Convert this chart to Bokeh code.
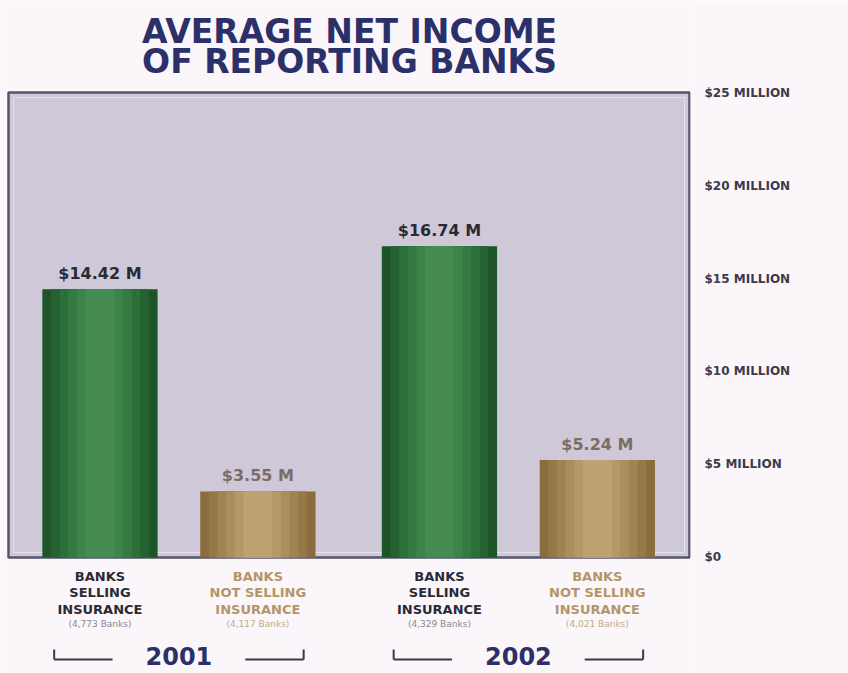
from bokeh.plotting import figure
from bokeh.models import Range1d, FixedTicker, ColumnDataSource
from bokeh.core.properties import value
from bokeh.embed import file_html
from bokeh.resources import INLINE

# ---- data ----
years = ["2001", "2002"]
category_lines = [
    ["BANKS", "SELLING", "INSURANCE"],
    ["BANKS", "NOT SELLING", "INSURANCE"],
]
bank_counts = ["(4,773 Banks)", "(4,117 Banks)", "(4,329 Banks)", "(4,021 Banks)"]
income_millions = [14.42, 3.55, 16.74, 5.24]
y_ticks = [0, 5, 10, 15, 20, 25]
y_tick_labels = ["$0", "$5 MILLION", "$10 MILLION", "$15 MILLION", "$20 MILLION", "$25 MILLION"]
title_lines = ["AVERAGE NET INCOME", "OF REPORTING BANKS"]

# ---- styling ----
FONT = value("DejaVu Sans")
NAVY = "#2c3068"
PAGE = "#fbf6fa"
PANEL = "#cfc8d8"
GREENS = ["#1d5529", "#246231", "#2c6f39", "#347a41", "#3d8449", "#468c52"]
TANS = ["#8a6c3f", "#957748", "#a08352", "#aa8e5e", "#b39968", "#bca371"]
SELL_TEXT = "#2a2a34"
NOSELL_TEXT = "#b39668"

W, H = 848, 673
RIGHT_PANEL = 158
FRAME_W = W - RIGHT_PANEL

n_cat = len(category_lines)
group_gap = 0.15
bar_w = 0.73

# bar centres: categories within a year side by side, years separated by a gap
xs, cat_idx, year_idx = [], [], []
for gi, _ in enumerate(years):
    for ci in range(n_cat):
        xs.append(gi * (n_cat + group_gap) + ci)
        cat_idx.append(ci)
        year_idx.append(gi)

x0 = xs[0] - 0.63
x1 = xs[-1] + 0.59
y0, y1 = -6.24, 29.95
ppu_x = FRAME_W / (x1 - x0)
ppu_y = H / (y1 - y0)

p = figure(
    width=W, height=H, output_backend="svg", toolbar_location=None,
    x_range=Range1d(x0, x1), y_range=Range1d(y0, y1),
    x_axis_location=None, y_axis_location="right",
    min_border_left=0, min_border_top=0, min_border_bottom=0,
    min_border_right=RIGHT_PANEL,
)
p.background_fill_color = PAGE
p.border_fill_color = PAGE
p.outline_line_color = None
p.grid.visible = False

# plot panel
pad_x = 8 / ppu_x
p.quad(left=[x0 + pad_x], right=[x1 - 1 / ppu_x], bottom=[0], top=[y_ticks[-1]],
       fill_color=PANEL, line_color="#56546c", line_width=2.5)
inset_x, inset_y = 5 / ppu_x, 5 / ppu_y
p.quad(left=[x0 + pad_x + inset_x], right=[x1 - 1 / ppu_x - inset_x],
       bottom=[inset_y], top=[y_ticks[-1] - inset_y],
       fill_color=None, line_color="#e6e2ec", line_width=1)

# bars with cylindrical shading (concentric vbars, lighter toward the middle)
for ci, palette in enumerate([GREENS, TANS]):
    bx = [x for x, c in zip(xs, cat_idx) if c == ci]
    bv = [v for v, c in zip(income_millions, cat_idx) if c == ci]
    src = ColumnDataSource(dict(x=bx, top=bv))
    for k, col in enumerate(palette):
        p.vbar(x="x", top="top", bottom=0, width=bar_w * (1 - 0.15 * k),
               source=src, fill_color=col, line_color=None)

# value labels above bars
val_src = ColumnDataSource(dict(
    x=xs, y=income_millions,
    text=[f"${v:.2f} M" for v in income_millions],
    color=[SELL_TEXT if c == 0 else "#7a6e64" for c in cat_idx],
))
p.text(x="x", y="y", text="text", source=val_src, text_color="color",
       text_font=FONT, text_font_style="bold", text_font_size="16px",
       text_align="center", text_baseline="bottom", y_offset=-6)

# category labels under the bars
for li, off in enumerate([19, 35, 52]):
    src = ColumnDataSource(dict(
        x=xs, y=[0] * len(xs),
        text=[category_lines[c][li] for c in cat_idx],
        color=[SELL_TEXT if c == 0 else NOSELL_TEXT for c in cat_idx],
    ))
    p.text(x="x", y="y", text="text", source=src, text_color="color",
           text_font=FONT, text_font_style="bold", text_font_size="13px",
           text_align="center", text_baseline="middle", y_offset=off)

cnt_src = ColumnDataSource(dict(
    x=xs, y=[0] * len(xs), text=bank_counts,
    color=["#8a8890" if c == 0 else "#c0ac8c" for c in cat_idx],
))
p.text(x="x", y="y", text="text", source=cnt_src, text_color="color",
       text_font=FONT, text_font_size="9px",
       text_align="center", text_baseline="middle", y_offset=67)

# year brackets
def y_at(py):
    return y1 - py / ppu_y

yr_centers = [sum(x for x, g in zip(xs, year_idx) if g == gi) / n_cat for gi in range(len(years))]
line_y = y_at(659)
tick_y = y_at(649)
half_out = 0.79
half_in = 0.42
for c in yr_centers:
    p.segment(x0=[c - half_out, c + half_in], y0=[line_y, line_y],
              x1=[c - half_in, c + half_out], y1=[line_y, line_y],
              line_color="#3a3a4a", line_width=2)
    p.segment(x0=[c - half_out, c + half_out], y0=[line_y, line_y],
              x1=[c - half_out, c + half_out], y1=[tick_y, tick_y],
              line_color="#3a3a4a", line_width=2)
p.text(x=yr_centers, y=[y_at(655)] * len(years), text=years, text_color=NAVY,
       text_font=FONT, text_font_style="bold", text_font_size="24px",
       text_align="center", text_baseline="middle")

# title
title_x = (x0 + pad_x + x1) / 2
p.text(x=[title_x, title_x], y=[y_at(31), y_at(61)], text=title_lines,
       text_color=NAVY, text_font=FONT, text_font_style="bold",
       text_font_size="33px", text_align="center", text_baseline="middle")

# right value axis
ax = p.yaxis[0]
ax.ticker = FixedTicker(ticks=y_ticks)
ax.major_label_overrides = {t: lab for t, lab in zip(y_ticks, y_tick_labels)}
ax.axis_line_color = None
ax.major_tick_line_color = None
ax.minor_tick_line_color = None
ax.major_label_standoff = 8
ax.major_label_text_font = "DejaVu Sans"
ax.major_label_text_font_style = "bold"
ax.major_label_text_font_size = "12px"
ax.major_label_text_color = "#3c3a4c"
ax.major_label_text_align = "left"

open("out.html", "w").write(file_html(p, INLINE))
